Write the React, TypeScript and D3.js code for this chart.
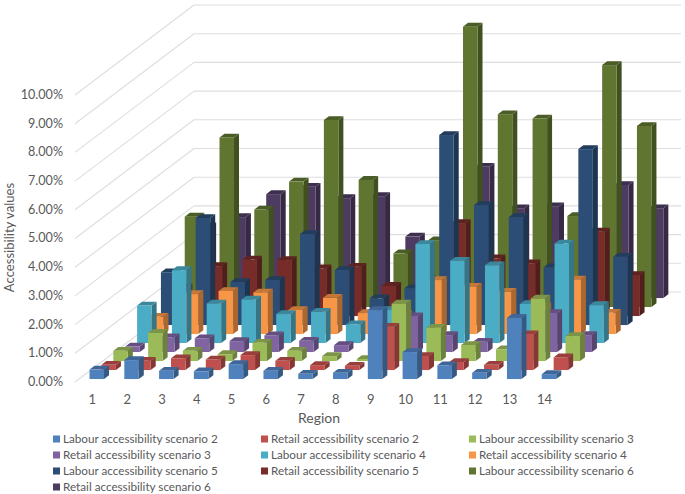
import * as d3 from 'd3';

const regions = ['1', '2', '3', '4', '5', '6', '7', '8', '9', '10', '11', '12', '13', '14'];
const yTicks = [0, 1, 2, 3, 4, 5, 6, 7, 8, 9, 10];

// values in percent, one list per series
const labour2 = [0.33, 0.66, 0.29, 0.27, 0.52, 0.29, 0.18, 0.22, 2.4, 0.94, 0.48, 0.22, 2.13, 0.17];
const retail2 = [0.18, 0.32, 0.41, 0.37, 0.52, 0.32, 0.17, 0.15, 1.51, 0.49, 0.28, 0.18, 1.25, 0.44];
const labour3 = [0.36, 0.98, 0.36, 0.24, 0.64, 0.36, 0.17, 0.07, 2.0, 1.16, 0.56, 0.41, 2.18, 0.87];
const retail3 = [0.19, 0.51, 0.48, 0.38, 0.58, 0.39, 0.24, 0.3, 1.25, 0.59, 0.36, 0.5, 1.36, 0.59];
const labour4 = [1.31, 2.54, 1.38, 1.52, 1.01, 1.09, 0.65, 1.15, 3.45, 2.87, 2.71, 1.36, 3.47, 1.32];
const retail4 = [0.6, 1.39, 1.5, 1.45, 0.84, 1.26, 0.73, 0.7, 1.88, 1.65, 1.47, 0.97, 1.9, 0.74];
const labour5 = [1.84, 3.73, 1.5, 1.57, 3.17, 1.92, 0.93, 1.28, 6.62, 4.18, 3.76, 2.01, 6.13, 2.38];
const retail5 = [1.0, 1.74, 1.97, 1.95, 1.66, 1.72, 1.05, 1.3, 3.24, 2.01, 1.84, 1.2, 2.94, 1.43];
const labour6 = [3.15, 5.91, 3.4, 4.37, 6.52, 4.43, 1.87, 2.33, 9.77, 6.72, 6.57, 3.17, 8.43, 6.31];
const retail6 = [2.5, 2.82, 3.62, 3.88, 3.48, 3.55, 2.14, 2.0, 4.57, 3.13, 3.2, 2.3, 3.94, 3.13];

const seriesNames = [
  'Labour accessibility scenario 2',
  'Retail accessibility scenario 2',
  'Labour accessibility scenario 3',
  'Retail accessibility scenario 3',
  'Labour accessibility scenario 4',
  'Retail accessibility scenario 4',
  'Labour accessibility scenario 5',
  'Retail accessibility scenario 5',
  'Labour accessibility scenario 6',
  'Retail accessibility scenario 6',
];
const seriesValues = [labour2, retail2, labour3, retail3, labour4, retail4, labour5, retail5, labour6, retail6];
const seriesColors = ['#4f81bd', '#c0504d', '#9bbb59', '#8064a2', '#4bacc6', '#f79646', '#2c4d75', '#772c2a', '#5f7530', '#4d3b62'];

const FONT = 'Lato, "Open Sans", sans-serif';
const TEXT = '#595959';
const GRID = '#dedede';

// oblique projection of the excel 3d box
const x3 = d3.scaleBand<string>().domain(regions).range([75, 562]);
const y3 = d3.scaleLinear().domain([0, 10]).range([382, 95]);
const depthX = d3.scaleLinear().domain([0, 10]).range([0, 119]);
const depthY = d3.scaleLinear().domain([0, 10]).range([0, -90]);

const BAR_WIDTH = 14.5;
const BAR_INSET = 10.6;
const SLOT_START = 0.33;
const BAR_DEPTH = 0.42;

const poly = (pts: number[][]) => pts.map(p => p.join(',')).join(' ');

function Bar({ k, r, v }: { k: number; r: number; v: number }) {
  const color = d3.color(seriesColors[k])!;
  const x0 = x3(regions[r])! + BAR_INSET + depthX(k + SLOT_START);
  const x1 = x0 + BAR_WIDTH;
  const base = y3(0) + depthY(k + SLOT_START);
  const top = base - (y3(0) - y3(v));
  const dx = depthX(BAR_DEPTH);
  const dy = depthY(BAR_DEPTH);
  return (
    <g>
      <polygon
        points={poly([[x1, base], [x1 + dx, base + dy], [x1 + dx, top + dy], [x1, top]])}
        fill={color.darker(1.05).toString()}
      />
      <polygon
        points={poly([[x0, top], [x1, top], [x1 + dx, top + dy], [x0 + dx, top + dy]])}
        fill={color.darker(0.65).toString()}
      />
      <rect x={x0} y={top} width={BAR_WIDTH} height={base - top} fill={color.toString()} />
    </g>
  );
}

export default function App() {
  const backX = depthX(10);
  const backY = depthY(10);
  // back to front so nearer bars paint over the far ones
  const order = d3.range(seriesValues.length).reverse();

  return (
    <svg
      width={685}
      height={494}
      viewBox="0 0 685 494"
      style={{ position: 'absolute', left: 0, top: 0, background: '#fff' }}
      fontFamily={FONT}
    >
      {/* side wall and back wall gridlines */}
      {yTicks.map(t => (
        <g key={t} fill="none" stroke={GRID} strokeWidth={1.1}>
          <line x1={75} y1={y3(t)} x2={75 + backX} y2={y3(t) + backY} />
          <line x1={75 + backX} y1={y3(t) + backY} x2={562 + backX} y2={y3(t) + backY} />
        </g>
      ))}

      {order.map(k => (
        <g key={k}>
          {seriesValues[k].map((v, r) => (
            <Bar key={r} k={k} r={r} v={v} />
          ))}
        </g>
      ))}

      {yTicks.map(t => (
        <text key={t} x={63} y={y3(t) - 0.5} dy="0.35em" textAnchor="end" fontSize={12.6} fill={TEXT}>
          {t.toFixed(2)}%
        </text>
      ))}
      {regions.map(r => (
        <text key={r} x={x3(r)! + x3.bandwidth() / 2} y={399} dy="0.35em" textAnchor="middle" fontSize={13} fill={TEXT}>
          {r}
        </text>
      ))}

      <text x={319} y={418} dy="0.35em" textAnchor="middle" fontSize={14} fill={TEXT}>Region</text>
      <text transform="translate(9,237.5) rotate(-90)" dy="0.35em" textAnchor="middle" fontSize={13.1} fill={TEXT}>
        Accessibility values
      </text>

      {seriesNames.map((name, i) => {
        const col = i % 3;
        const row = Math.floor(i / 3);
        const lx = 53 + col * 208;
        const ly = 439 + row * 16;
        return (
          <g key={name}>
            <rect x={lx} y={ly - 3.5} width={7} height={7} fill={seriesColors[i]} />
            <text x={lx + 10} y={ly} dy="0.35em" fontSize={11.7} fill={TEXT}>{name}</text>
          </g>
        );
      })}
    </svg>
  );
}
